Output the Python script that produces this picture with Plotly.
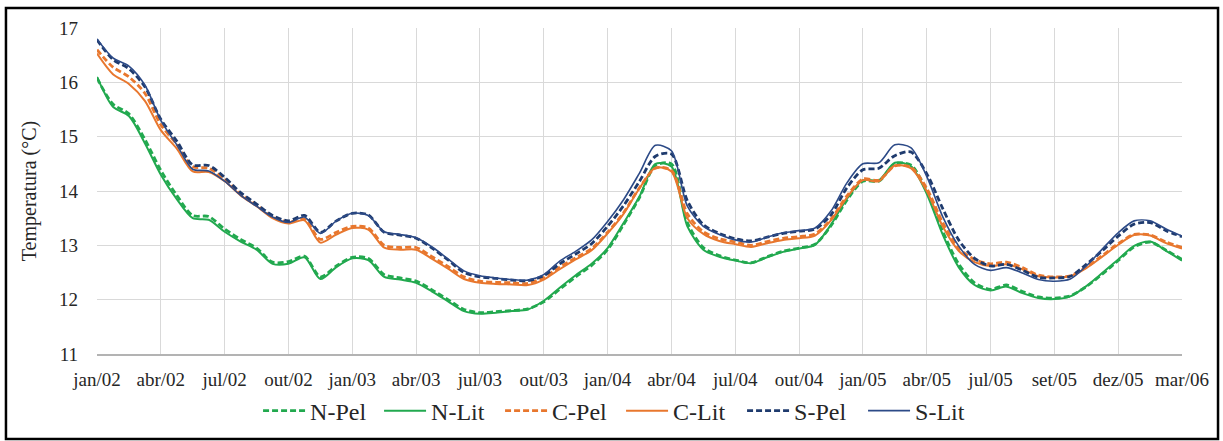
import plotly.graph_objects as go

tick_labels = ["jan/02", "abr/02", "jul/02", "out/02", "jan/03", "abr/03", "jul/03", "out/03",
               "jan/04", "abr/04", "jul/04", "out/04", "jan/05", "abr/05", "jul/05", "set/05",
               "dez/05", "mar/06"]
points_per_label = 4

n_pel = [16.08, 15.60, 15.42, 14.95, 14.38, 13.92, 13.55, 13.53, 13.30, 13.11, 12.95, 12.69, 12.70, 12.80,
         12.42, 12.62, 12.78, 12.76, 12.46, 12.40, 12.34, 12.18, 12.00, 11.82, 11.76, 11.78, 11.80, 11.83,
         11.96, 12.19, 12.42, 12.63, 12.92, 13.38, 13.88, 14.47, 14.50, 13.42, 12.96, 12.81, 12.73, 12.68,
         12.79, 12.89, 12.95, 13.02, 13.36, 13.83, 14.18, 14.18, 14.50, 14.48, 14.00, 13.26, 12.66, 12.31,
         12.19, 12.27, 12.15, 12.05, 12.03, 12.07, 12.24, 12.47, 12.72, 12.97, 13.06, 12.91, 12.74]
n_lit = [16.10, 15.55, 15.38, 14.88, 14.30, 13.85, 13.50, 13.47, 13.25, 13.07, 12.92, 12.66, 12.66, 12.78,
         12.38, 12.60, 12.76, 12.73, 12.42, 12.37, 12.31, 12.15, 11.97, 11.79, 11.74, 11.76, 11.79, 11.82,
         11.98, 12.22, 12.45, 12.66, 12.95, 13.41, 13.90, 14.50, 14.45, 13.35, 12.92, 12.79, 12.72, 12.67,
         12.78, 12.88, 12.94, 13.01, 13.38, 13.86, 14.20, 14.20, 14.52, 14.46, 13.95, 13.20, 12.60, 12.27,
         12.17, 12.24, 12.12, 12.03, 12.01, 12.06, 12.25, 12.49, 12.74, 12.99, 13.07, 12.90, 12.72]
c_pel = [16.60, 16.28, 16.10, 15.80, 15.22, 14.86, 14.45, 14.42, 14.22, 13.95, 13.74, 13.52, 13.43, 13.48,
         13.11, 13.24, 13.35, 13.32, 13.00, 12.96, 12.96, 12.79, 12.61, 12.42, 12.34, 12.32, 12.31, 12.30,
         12.41, 12.60, 12.77, 12.94, 13.24, 13.60, 14.06, 14.42, 14.38, 13.58, 13.25, 13.12, 13.06, 13.00,
         13.07, 13.13, 13.16, 13.21, 13.48, 13.91, 14.22, 14.20, 14.46, 14.44, 14.05, 13.42, 12.95, 12.74,
         12.66, 12.69, 12.59, 12.45, 12.42, 12.44, 12.60, 12.81, 13.03, 13.20, 13.19, 13.06, 12.96]
c_lit = [16.53, 16.15, 15.97, 15.66, 15.12, 14.78, 14.36, 14.35, 14.18, 13.92, 13.72, 13.50, 13.40, 13.46,
         13.05, 13.20, 13.32, 13.29, 12.96, 12.92, 12.92, 12.75, 12.57, 12.38, 12.31, 12.29, 12.28, 12.27,
         12.37, 12.56, 12.74, 12.91, 13.22, 13.58, 14.05, 14.43, 14.36, 13.50, 13.21, 13.08, 13.02, 12.97,
         13.04, 13.10, 13.13, 13.18, 13.46, 13.88, 14.20, 14.18, 14.47, 14.42, 14.00, 13.35, 12.90, 12.69,
         12.62, 12.65, 12.56, 12.43, 12.41, 12.43, 12.58, 12.79, 13.01, 13.19, 13.18, 13.04, 12.94]
s_pel = [16.78, 16.42, 16.25, 15.92, 15.32, 14.92, 14.48, 14.47, 14.25, 13.97, 13.76, 13.55, 13.45, 13.55,
         13.24, 13.45, 13.59, 13.56, 13.24, 13.19, 13.13, 12.95, 12.73, 12.50, 12.42, 12.39, 12.36, 12.35,
         12.44, 12.66, 12.84, 13.03, 13.35, 13.73, 14.18, 14.64, 14.68, 13.82, 13.38, 13.22, 13.12, 13.08,
         13.15, 13.22, 13.26, 13.30, 13.56, 14.06, 14.39, 14.42, 14.65, 14.72, 14.32, 13.68, 13.10, 12.76,
         12.62, 12.65, 12.54, 12.41, 12.40, 12.43, 12.65, 12.90, 13.17, 13.39, 13.42, 13.27, 13.16]
s_lit = [16.80, 16.45, 16.30, 15.95, 15.30, 14.85, 14.40, 14.37, 14.18, 13.92, 13.72, 13.52, 13.42, 13.52,
         13.22, 13.45, 13.59, 13.55, 13.25, 13.20, 13.14, 12.97, 12.75, 12.53, 12.44, 12.40, 12.37, 12.36,
         12.46, 12.71, 12.89, 13.10, 13.44, 13.84, 14.33, 14.84, 14.74, 13.72, 13.35, 13.20, 13.10, 13.06,
         13.15, 13.23, 13.27, 13.32, 13.63, 14.15, 14.50, 14.52, 14.85, 14.80, 14.27, 13.53, 12.99, 12.65,
         12.54, 12.59, 12.49, 12.37, 12.34, 12.38, 12.62, 12.93, 13.23, 13.45, 13.45, 13.30, 13.17]

GREEN = "#22a94f"
ORANGE = "#e8772e"
NAVY_D = "#1f3b6e"
NAVY_S = "#2c4a87"
FONT = "Liberation Serif"

x_idx = list(range(len(n_pel)))
series = [
    ("N-Pel", n_pel, GREEN, "6px,3px", 2.8),
    ("N-Lit", n_lit, GREEN, "solid", 2.0),
    ("C-Pel", c_pel, ORANGE, "6px,3px", 2.8),
    ("C-Lit", c_lit, ORANGE, "solid", 2.0),
    ("S-Pel", s_pel, NAVY_D, "6px,3px", 2.8),
    ("S-Lit", s_lit, NAVY_S, "solid", 1.6),
]

fig = go.Figure()
for name, vals, col, dash, w in series:
    fig.add_trace(go.Scatter(x=x_idx, y=vals, name=name, mode="lines",
                             line=dict(color=col, dash=dash, width=w, shape="spline", smoothing=0.8)))

tickvals = list(range(0, len(n_pel), points_per_label))
fig.update_layout(
    width=1223, height=441,
    margin=dict(l=97, r=41, t=28, b=87, autoexpand=False),
    paper_bgcolor="white", plot_bgcolor="white",
    font=dict(family=FONT, color="#262626"),
    showlegend=True,
    legend=dict(orientation="h", x=0.483, xanchor="center", y=-0.175, yanchor="middle",
                font=dict(family=FONT, size=24, color="#262626"), itemwidth=42,
                entrywidth=64, entrywidthmode="pixels",
                bgcolor="rgba(0,0,0,0)"),
    xaxis=dict(range=[0, len(n_pel) - 1], tickvals=tickvals, ticktext=tick_labels,
               showgrid=True, gridcolor="#d9d9d9", gridwidth=1, zeroline=False,
               showline=True, linecolor="#b3b3b3", linewidth=1.5, ticks="",
               tickfont=dict(family=FONT, size=19, color="#262626"), ticklabelstandoff=7,
               tickangle=0, automargin=False),
    yaxis=dict(range=[11, 17], dtick=1, tick0=11, showgrid=True, gridcolor="#d9d9d9", gridwidth=1,
               zeroline=False, showline=False, ticks="", automargin=False,
               tickfont=dict(family=FONT, size=19, color="#262626"), ticklabelstandoff=18,
               title=dict(text="Temperatura (°C)", font=dict(family=FONT, size=20, color="#262626"),
                          standoff=17)),
    shapes=[dict(type="rect", xref="paper", yref="paper", x0=-0.0839, x1=1.0332, y0=-0.2607, y1=1.0613,
                 line=dict(color="black", width=2.5), fillcolor="rgba(0,0,0,0)", layer="above")],
)
fig.write_html("out.html", config={"displayModeBar": False},
               post_script="document.body.style.margin='0';document.body.style.overflow='hidden';")
